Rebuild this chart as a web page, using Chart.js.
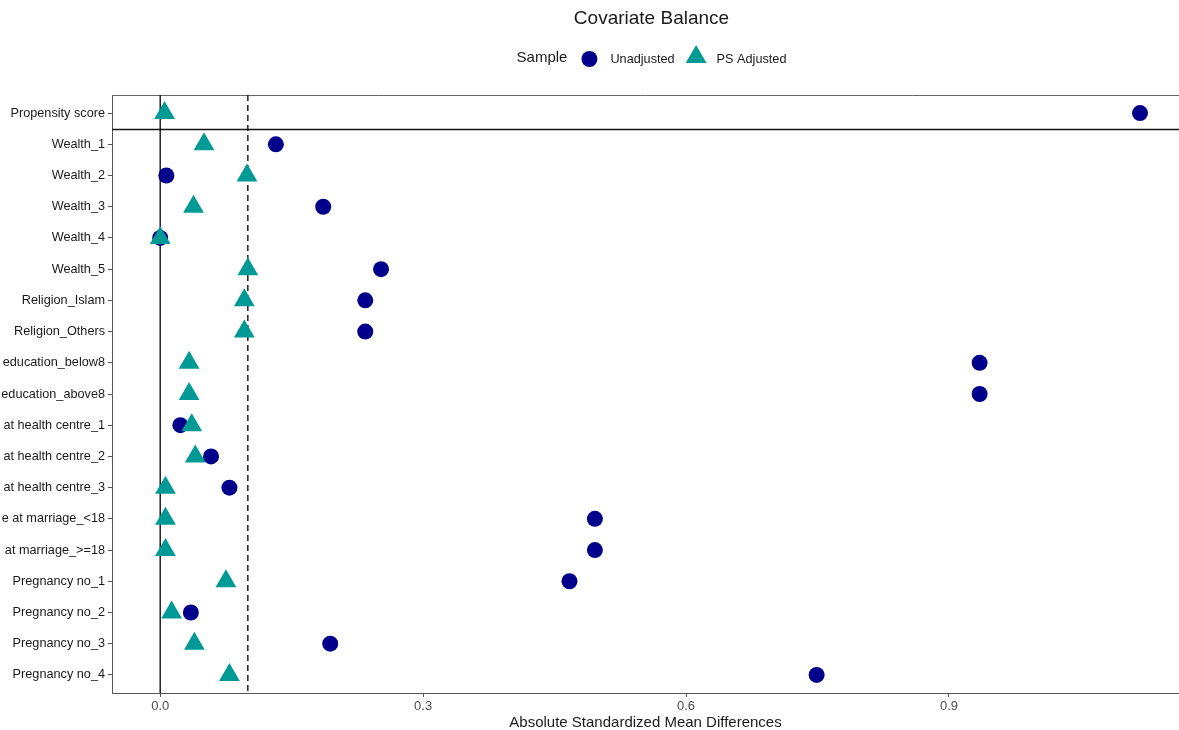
<!DOCTYPE html>
<html>
<head>
<meta charset="utf-8">
<title>Covariate Balance</title>
<script src="https://cdn.jsdelivr.net/npm/chart.js@4.4.1/dist/chart.umd.min.js"></script>
<style>
  html, body { margin: 0; padding: 0; background: #fff; }
  #wrap { width: 1179px; height: 730px; }
</style>
</head>
<body>
<div id="wrap"><canvas id="balanceChart" width="1179" height="730"></canvas></div>
<script>
// covariates, top to bottom (labels are cut off on the left in the original)
const covariates = [
  'Propensity score', 'Wealth_1', 'Wealth_2', 'Wealth_3', 'Wealth_4', 'Wealth_5',
  'Religion_Islam', 'Religion_Others', 'education_below8', 'education_above8',
  'at health centre_1', 'at health centre_2', 'at health centre_3',
  'e at marriage_<18', 'at marriage_>=18',
  'Pregnancy no_1', 'Pregnancy no_2', 'Pregnancy no_3', 'Pregnancy no_4'
];
const unadjusted = [1.118, 0.132, 0.007, 0.186, 0.0, 0.252, 0.234, 0.234, 0.935, 0.935,
  0.023, 0.058, 0.079, 0.496, 0.496, 0.467, 0.035, 0.194, 0.749];
const psAdjusted = [0.005, 0.050, 0.099, 0.038, 0.0, 0.100, 0.096, 0.096, 0.033, 0.033,
  0.036, 0.040, 0.006, 0.006, 0.006, 0.075, 0.013, 0.039, 0.079];
const xTicks = [0, 0.3, 0.6, 0.9];
const threshold = 0.1;

const NAVY = '#00008B';
const TEAL = '#009A96';
const FONT = "'Liberation Sans', Arial, sans-serif";

const toPoints = vals => vals.map((v, i) => ({ x: v, y: i }));

// reference lines + the box round the propensity score row
const refLines = {
  id: 'refLines',
  beforeDatasetsDraw(chart) {
    const { ctx, chartArea: a, scales: { x, y } } = chart;
    ctx.save();
    // top border of panel
    ctx.strokeStyle = '#666';
    ctx.lineWidth = 1;
    ctx.beginPath();
    ctx.moveTo(a.left, a.top + 0.5);
    ctx.lineTo(a.right, a.top + 0.5);
    ctx.stroke();
    // separator under propensity score
    const ys = Math.round(y.getPixelForValue(0.5)) + 0.5;
    ctx.strokeStyle = '#111';
    ctx.lineWidth = 1.4;
    ctx.beginPath();
    ctx.moveTo(a.left, ys);
    ctx.lineTo(a.right, ys);
    ctx.stroke();
    // zero line
    const x0 = x.getPixelForValue(0);
    ctx.beginPath();
    ctx.moveTo(x0, a.top);
    ctx.lineTo(x0, a.bottom);
    ctx.stroke();
    // threshold
    const xt = x.getPixelForValue(threshold);
    ctx.setLineDash([6, 4]);
    ctx.beginPath();
    ctx.moveTo(xt, a.top);
    ctx.lineTo(xt, a.bottom);
    ctx.stroke();
    ctx.restore();
  }
};

// title and ggplot style legend: "Sample  (o) Unadjusted  (^) PS Adjusted"
const header = {
  id: 'header',
  afterDraw(chart) {
    const { ctx, chartArea: a } = chart;
    const mid = (a.left + a.right) / 2 + 6;
    ctx.save();
    ctx.textBaseline = 'middle';
    ctx.textAlign = 'center';
    ctx.fillStyle = '#1a1a1a';
    ctx.font = '19px ' + FONT;
    ctx.fillText('Covariate Balance', mid, 19);

    ctx.textAlign = 'left';
    const yc = 59;
    ctx.font = '15px ' + FONT;
    const wTitle = ctx.measureText('Sample').width;
    ctx.font = '12.7px ' + FONT;
    const w1 = ctx.measureText('Unadjusted').width;
    const w2 = ctx.measureText('PS Adjusted').width;
    const total = wTitle + 14 + 16 + 13 + w1 + 11 + 21 + 10 + w2;
    let cx = mid - total / 2;

    ctx.font = '15px ' + FONT;
    ctx.fillText('Sample', cx, yc - 1);
    cx += wTitle + 14;

    ctx.fillStyle = NAVY;
    ctx.beginPath();
    ctx.arc(cx + 8, yc, 8, 0, Math.PI * 2);
    ctx.fill();
    cx += 16 + 13;

    ctx.fillStyle = '#1a1a1a';
    ctx.font = '12.7px ' + FONT;
    ctx.fillText('Unadjusted', cx, yc);
    cx += w1 + 11;

    const r = 12;
    const tx = cx + 10.5, ty = yc - 2;
    ctx.fillStyle = TEAL;
    ctx.beginPath();
    ctx.moveTo(tx, ty - r);
    ctx.lineTo(tx + r * Math.sin(Math.PI * 2 / 3), ty - r * Math.cos(Math.PI * 2 / 3));
    ctx.lineTo(tx - r * Math.sin(Math.PI * 2 / 3), ty - r * Math.cos(Math.PI * 2 / 3));
    ctx.closePath();
    ctx.fill();
    cx += 21 + 10;

    ctx.fillStyle = '#1a1a1a';
    ctx.fillText('PS Adjusted', cx, yc);
    ctx.restore();
  }
};

const ctx = document.getElementById('balanceChart').getContext('2d');
const balanceChart = new Chart(ctx, {
  type: 'scatter',
  data: {
    datasets: [
      {
        label: 'Unadjusted',
        data: toPoints(unadjusted),
        pointStyle: 'circle',
        pointRadius: 8,
        pointHoverRadius: 8,
        pointBorderWidth: 0,
        backgroundColor: NAVY,
        borderColor: NAVY,
        order: 1
      },
      {
        label: 'PS Adjusted',
        data: toPoints(psAdjusted),
        pointStyle: 'triangle',
        pointRadius: 12,
        pointHoverRadius: 12,
        pointBorderWidth: 0,
        backgroundColor: TEAL,
        borderColor: TEAL,
        order: 0
      }
    ]
  },
  options: {
    responsive: false,
    animation: false,
    layout: { padding: { top: 95, left: 0, right: 0, bottom: 0 }, autoPadding: false },
    plugins: {
      legend: { display: false },
      tooltip: { enabled: false },
      title: { display: false }
    },
    scales: {
      x: {
        type: 'linear',
        min: -0.055,
        max: 1.1625,
        afterBuildTicks: s => { s.ticks = xTicks.map(v => ({ value: v })); },
        afterFit: s => { s.height = 37; },
        ticks: {
          color: '#4d4d4d',
          font: { family: FONT, size: 13 },
          padding: 2,
          maxRotation: 0,
          callback: v => v.toFixed(1)
        },
        grid: { drawOnChartArea: false, drawTicks: true, tickLength: 4, color: '#555' },
        border: { display: true, color: '#555', width: 1 },
        title: {
          display: true,
          text: 'Absolute Standardized Mean Differences',
          color: '#1a1a1a',
          font: { family: FONT, size: 15 },
          padding: { top: 0, bottom: -2 }
        }
      },
      y: {
        type: 'linear',
        reverse: true,
        min: -0.58,
        max: covariates.length - 1 + 0.58,
        afterBuildTicks: s => { s.ticks = covariates.map((_, i) => ({ value: i })); },
        afterFit: s => { s.width = 112; },
        ticks: {
          color: '#1a1a1a',
          font: { family: FONT, size: 12.7 },
          padding: 3,
          autoSkip: false,
          callback: v => covariates[v]
        },
        grid: { drawOnChartArea: false, drawTicks: true, tickLength: 4, color: '#555' },
        border: { display: true, color: '#555', width: 1 }
      }
    }
  },
  plugins: [refLines, header]
});
</script>
</body>
</html>
